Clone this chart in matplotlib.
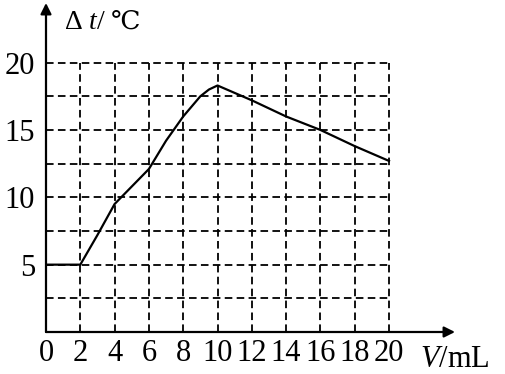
import matplotlib.pyplot as plt

plt.rcParams['font.family'] = ['Liberation Serif', 'DejaVu Serif']
plt.rcParams['mathtext.fontset'] = 'custom'
plt.rcParams['mathtext.rm'] = 'Liberation Serif'
plt.rcParams['mathtext.it'] = 'Liberation Serif:italic'

# data
V = [0, 2, 3, 4, 5, 6, 7, 8, 9, 9.5, 10, 12, 14, 16, 18, 20]
dt = [5, 5, 7.2, 9.5, 10.8, 12.1, 14.2, 16.0, 17.5, 18.0, 18.3,
      17.2, 16.0, 15.0, 13.8, 12.7]
x_ticks = [0, 2, 4, 6, 8, 10, 12, 14, 16, 18, 20]
y_ticks = [5, 10, 15, 20]
x_grid = [2, 4, 6, 8, 10, 12, 14, 16, 18, 20]
y_grid = [2.5, 5, 7.5, 10, 12.5, 15, 17.5, 20]

W, H = 505, 374
fig = plt.figure(figsize=(5.05, 3.74), dpi=100)
ax = fig.add_axes([46/W, 42/H, 409/W, 329/H])
ax.set_xlim(0, 409/17.15)
ax.set_ylim(0, 329/13.47)

dash = (0, (4.2, 2.4))
ax.vlines(x_grid, 0, 20, colors='black', linewidth=1.3, linestyles=dash)
ax.hlines(y_grid, 0, 20, colors='black', linewidth=1.3, linestyles=dash)

ax.plot(V, dt, color='black', linewidth=1.6, solid_joinstyle='round')

for s in ax.spines.values():
    s.set_visible(False)

# axes with arrows
ax.annotate('', xy=(1.0, 0), xycoords='axes fraction', xytext=(0, 0),
            arrowprops=dict(arrowstyle='-|>', color='black', lw=1.6,
                            mutation_scale=16, shrinkA=0, shrinkB=0))
ax.annotate('', xy=(0, 1.0), xycoords='axes fraction', xytext=(0, 0),
            arrowprops=dict(arrowstyle='-|>', color='black', lw=1.6,
                            mutation_scale=16, shrinkA=0, shrinkB=0))

ax.set_xticks(x_ticks)
ax.set_xticklabels([str(t) for t in x_ticks])
ax.set_yticks(y_ticks)
ax.set_yticklabels([str(t) for t in y_ticks])
ax.tick_params(length=0, labelsize=22)
ax.tick_params(axis='x', pad=5)
ax.tick_params(axis='y', pad=8)

# axis titles
fig.text(64/W, 1 - 29/H, r'$\Delta\ t/$', fontsize=20, ha='left', va='baseline')
fig.text(111/W, 1 - 29/H, '℃', fontsize=19, family='DejaVu Serif',
         ha='left', va='baseline')
fig.text(420/W, 1 - 367/H, r'$V/$mL', fontsize=22, ha='left', va='baseline')

fig.savefig('out.png', dpi=100)
